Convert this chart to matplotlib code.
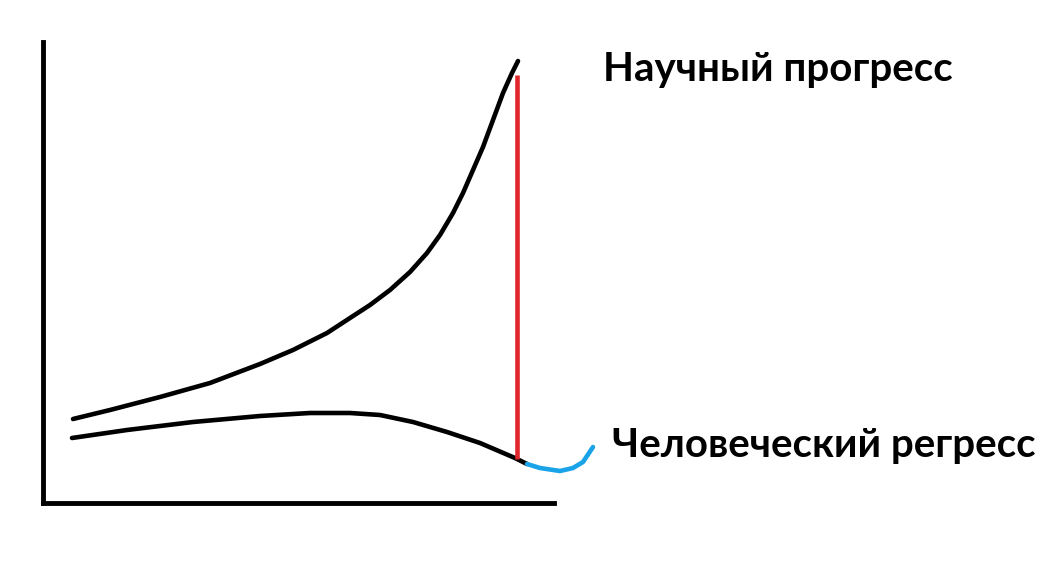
import matplotlib
matplotlib.use('Agg')
import matplotlib.pyplot as plt

# данные (условные единицы)
science_x = [30, 67, 117, 167, 217, 250, 284, 307, 327, 347, 367, 384, 397, 410, 420, 430, 440, 450, 460, 469, 475]
science_y = [84, 93, 106, 120, 139, 153, 170, 185, 198, 213, 231, 250, 268, 290, 310, 333, 356, 383, 410, 430, 442]

human_x = [29, 84, 150, 217, 267, 307, 337, 370, 404, 437, 472, 484]
human_y = [65, 73, 81, 87, 90, 90, 88, 81, 71, 60, 45, 39]

future_x = [484, 497, 517, 530, 540, 550]
future_y = [39, 35, 32, 35, 41, 56]

gap_x = 473.5
gap_y = [44, 428]

label_science = 'Научный прогресс'
label_human = 'Человеческий регресс'

plt.rcParams['font.family'] = ['Lato', 'DejaVu Sans']

fig = plt.figure(figsize=(10.56, 5.63), dpi=100)
ax = fig.add_axes([43 / 1056, 60 / 563, 511 / 1056, 461 / 563])
ax.set_xlim(0, 511)
ax.set_ylim(0, 461)

lw = 3.3
style = dict(lw=lw, solid_capstyle='round', solid_joinstyle='round')
ax.plot(science_x, science_y, color='black', **style)
ax.plot(human_x, human_y, color='black', **style)
ax.plot(future_x, future_y, color='#1aa3e8', clip_on=False, **style)
ax.vlines(gap_x, gap_y[0], gap_y[1], color='#e0262b', lw=lw)

# оси как у рисунка от руки
for side in ['top', 'right']:
    ax.spines[side].set_visible(False)
for side in ['left', 'bottom']:
    ax.spines[side].set_linewidth(3.5)
ax.set_xticks([])
ax.set_yticks([])

ax.text(560, 433, label_science, fontsize=29, fontweight='bold', va='center', ha='left', clip_on=False)
ax.text(569, 58, label_human, fontsize=29, fontweight='bold', va='center', ha='left', clip_on=False)

fig.savefig('out.png', dpi=100)
